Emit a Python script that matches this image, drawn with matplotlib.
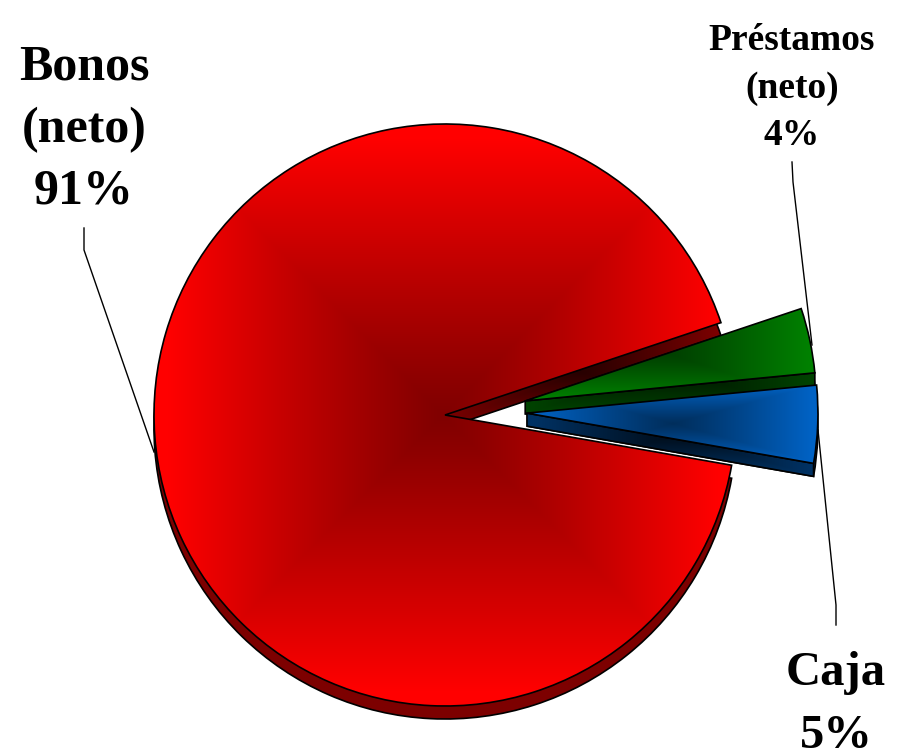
import numpy as np
import matplotlib
matplotlib.use("Agg")
import matplotlib.pyplot as plt
from matplotlib.patches import Polygon

# slice sizes as drawn (the pie is tilted, so they differ a bit from the printed %)
slices = ["Bonos", "Caja", "Prestamos"]
sizes = [92.1, 4.3, 3.6]
explode = [0, 82, 82]

label_lines = [["Bonos", "(neto)", "91%"], ["Préstamos", "(neto)", "4%"], ["Caja", "5%"]]
label_x = [84, 792, 836]
label_y = [80, 50, 685]
label_pitch = [62, 47.5, 63]
label_size = [36, 27, 35]

# leader lines, in pixels from the top left of the picture
leader_x = [[84, 84, 154], [792, 793, 812], [836, 836, 818]]
leader_y = [[228, 250, 452], [162, 182, 345], [625, 605, 430]]

face_dark = [(128, 0, 0), (0, 46, 92), (0, 64, 0)]
face_bright = [(255, 0, 0), (0, 98, 196), (0, 128, 0)]
wall_dark = [(40, 0, 0), (0, 14, 28), (0, 18, 0)]
wall_bright = [(125, 0, 0), (0, 50, 100), (0, 66, 0)]

W, H = 904, 755
cx, cy = 445, H - 415
radius = 291
depth = 13
# the tilt moves the pulled out slices a little off their own mid angle
nudge_y = [0, 5, -3]


def shade(ax, patch, dark, bright, z, focus=None, half=None):
    # rectangular gradient from the middle of the slice's box, clipped to the slice
    box = patch.get_extents().transformed(ax.transData.inverted())
    if focus is None:
        focus = ((box.x0 + box.x1) / 2, (box.y0 + box.y1) / 2)
        half = (box.width / 2 * 0.95, box.height / 2 * 0.95)
    xx, yy = np.meshgrid(np.linspace(box.x0, box.x1, 500), np.linspace(box.y0, box.y1, 500))
    t = np.maximum(np.abs(xx - focus[0]) / half[0], np.abs(yy - focus[1]) / half[1])
    t = np.clip(t, 0, 1)[..., None] ** 1.1
    rgb = (np.array(dark) + (np.array(bright) - np.array(dark)) * t) / 255
    im = ax.imshow(rgb, extent=(box.x0, box.x1, box.y0, box.y1), origin="lower",
                   aspect="auto", zorder=z, interpolation="bilinear")
    im.set_clip_path(patch)
    patch.set_facecolor("none")
    patch.set_zorder(z + 0.1)


fig = plt.figure(figsize=(W / 100, H / 100), dpi=100)
ax = fig.add_axes([0, 0, 1, 1])

walls, _ = ax.pie(sizes, explode=explode, startangle=18.5, radius=radius,
                  center=(cx, cy - depth), colors=["k"] * 3, frame=True,
                  wedgeprops={"edgecolor": "black", "linewidth": 1.2})
faces, _ = ax.pie(sizes, explode=explode, startangle=18.5, radius=radius,
                  center=(cx, cy), colors=["k"] * 3, frame=True,
                  wedgeprops={"edgecolor": "black", "linewidth": 1.2})
ax.set_xlim(0, W)
ax.set_ylim(0, H)
ax.set_axis_off()

for group in (walls, faces):
    for wedge, dy in zip(group, nudge_y):
        wedge.set_center((wedge.center[0], wedge.center[1] + dy))

# red first, then green, then blue on top
for z, i in zip([3, 6, 9], [0, 2, 1]):
    if i == 0:
        # the dark part of the red wall sits in the visible strip of the cut
        shade(ax, walls[i], wall_dark[i], wall_bright[i], z, focus=(582, H - 372), half=(138, 52))
    else:
        # side of the cut between the top slice and its lower copy
        box = walls[i].get_extents().transformed(ax.transData.inverted())
        focus = ((box.x0 + box.x1) / 2, (box.y0 + box.y1) / 2)
        half = (box.width / 2 * 0.95, box.height / 2 * 0.95)
        a = np.radians(walls[i].theta1)
        x0, y0 = faces[i].center
        x1, y1 = x0 + radius * np.cos(a), y0 + radius * np.sin(a)
        side = Polygon([(x0, y0), (x1, y1), (x1, y1 - depth), (x0, y0 - depth)], closed=True,
                       edgecolor="black", linewidth=1.2)
        ax.add_patch(side)
        shade(ax, walls[i], wall_dark[i], wall_bright[i], z, focus=focus, half=half)
        shade(ax, side, wall_dark[i], wall_bright[i], z + 1, focus=focus, half=half)
    shade(ax, faces[i], face_dark[i], face_bright[i], z + 2)

ax.set_xlim(0, W)
ax.set_ylim(0, H)

for xs, ys in zip(leader_x, leader_y):
    ax.plot(xs, [H - v for v in ys], color="black", lw=1.0, zorder=2)

for lines, x, y, pitch, size in zip(label_lines, label_x, label_y, label_pitch, label_size):
    for n, line in enumerate(lines):
        ax.text(x, H - (y + n * pitch), line, ha="center", va="baseline",
                family="Liberation Serif", weight="bold", fontsize=size, zorder=20)

fig.savefig("out.png", dpi=100)
